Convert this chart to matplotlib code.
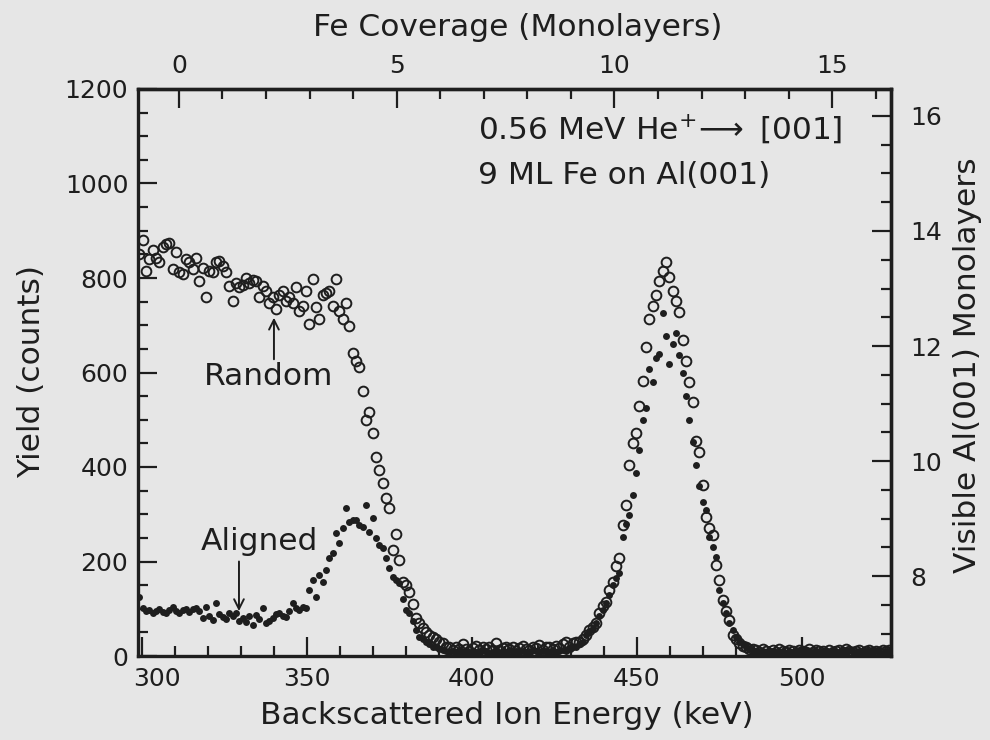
import numpy as np
import matplotlib
matplotlib.use("Agg")
import matplotlib.pyplot as plt
from matplotlib.ticker import MultipleLocator, FixedLocator
from matplotlib.transforms import ScaledTranslation

# ---------------- data ----------------
# detector channels: start energy (keV) and channel width (keV)
channel_start = 299.2
channel_width = 1.01

random_counts = [
    850, 880, 815, 841, 860, 843, 833, 865, 872, 875,
    819, 854, 812, 808, 841, 833, 820, 843, 794, 822,
    759, 815, 812, 833, 836, 826, 812, 784, 752, 790,
    780, 785, 801, 790, 795, 794, 759, 784, 773, 748,
    759, 735, 763, 773, 752, 760, 748, 780, 731, 740,
    773, 703, 798, 738, 714, 763, 769, 773, 741, 798,
    731, 714, 748, 699, 642, 625, 611, 560, 499, 516,
    473, 421, 393, 366, 334, 313, 224, 258, 203, 156,
    150, 135, 110, 80, 70, 59, 50, 45, 40, 35,
    30, 28, 20, 18, 12, 20, 15, 25, 14, 10,
    16, 22, 12, 18, 15, 20, 13, 28, 12, 16,
    18, 14, 20, 10, 17, 22, 15, 12, 19, 16,
    24, 13, 18, 20, 15, 22, 17, 25, 30, 20,
    28, 30, 30, 35, 45, 55, 61, 70, 90, 105,
    114, 140, 156, 190, 207, 277, 319, 404, 450, 471,
    530, 583, 653, 714, 741, 763, 794, 815, 833, 803,
    773, 752, 727, 668, 625, 580, 537, 456, 431, 362,
    294, 270, 256, 192, 161, 118, 95, 76, 44, 35,
    28, 22, 18, 15, 14, 12, 8, 14, 10, 6,
    12, 9, 15, 10, 8, 12, 11, 7, 13, 10,
    9, 14, 8, 12, 10, 11, 6, 13, 9, 10,
    12, 8, 14, 10, 9, 11, 13, 7, 10, 12,
    9, 11, 8, 13, 10, 12, 10,
]

aligned_counts = [
    125, 101, 95, 98, 91, 96, 100, 93, 90, 97,
    104, 95, 92, 97, 99, 94, 100, 101, 96, 80,
    104, 85, 76, 112, 88, 82, 78, 91, 85, 91,
    75, 80, 72, 85, 66, 87, 78, 101, 70, 75,
    80, 88, 91, 85, 82, 95, 112, 101, 98, 104,
    101, 140, 161, 125, 171, 156, 182, 207, 218, 260,
    239, 270, 313, 283, 287, 287, 277, 273, 319, 262,
    292, 249, 235, 228, 207, 186, 167, 160, 154, 120,
    97, 91, 75, 55, 40, 35, 30, 25, 20, 18,
    15, 12, 10, 8, 11, 9, 12, 7, 10, 8,
    11, 9, 8, 12, 10, 7, 9, 11, 8, 10,
    9, 12, 8, 10, 7, 11, 9, 8, 12, 10,
    8, 10, 11, 9, 12, 8, 10, 13, 11, 15,
    18, 20, 25, 30, 45, 52, 59, 70, 85, 97,
    112, 129, 150, 165, 175, 251, 280, 298, 340, 387,
    435, 499, 524, 608, 579, 630, 640, 725, 678, 619,
    661, 683, 636, 598, 550, 499, 452, 404, 360, 325,
    308, 251, 230, 209, 139, 112, 90, 70, 55, 40,
    30, 25, 20, 15, 12, 10, 8, 11, 9, 7,
    10, 8, 9, 11, 7, 10, 8, 9, 12, 8,
    10, 7, 9, 11, 8, 10, 9, 7, 11, 8,
    9, 10, 8, 12, 7, 9, 10, 8, 11, 9,
    8, 10, 9, 7, 11, 9, 10,
]

x_ticks = [300, 350, 400, 450, 500]
y_ticks = [0, 200, 400, 600, 800, 1000, 1200]
top_ticks = [0, 5, 10, 15]
right_ticks = [8, 10, 12, 14, 16]

# axis calibrations
fe_zero_energy = 311.2      # keV at 0 ML Fe
fe_kev_per_ml = 13.2
al_zero_counts = -805.0     # counts at 0 visible Al ML
al_counts_per_ml = 121.75

energy = channel_start + channel_width * np.arange(len(random_counts))

# ---------------- style ----------------
BG = "#e6e6e6"
INK = "#1e1e1e"
plt.rcParams["font.family"] = ["DejaVu Sans"]
plt.rcParams["mathtext.fontset"] = "dejavusans"

W, H = 990, 740
fig = plt.figure(figsize=(W / 100, H / 100), dpi=100)
fig.patch.set_facecolor(BG)

L, R, T, B = 138, 891, 89, 656
ax = fig.add_axes([L / W, (H - B) / H, (R - L) / W, (B - T) / H])
ax.set_facecolor(BG)

ax.plot(energy, random_counts, linestyle="none", marker="o", ms=7.0,
        mfc="none", mec=INK, mew=1.4, zorder=3)
ax.plot(energy, aligned_counts, linestyle="none", marker="o", ms=5.0,
        mfc=INK, mec=INK, mew=0, zorder=4)

ax.set_xlim(298.8, 527.0)
ax.set_ylim(0, 1200)

ax.xaxis.set_major_locator(FixedLocator(x_ticks))
ax.xaxis.set_minor_locator(MultipleLocator(10))
ax.yaxis.set_major_locator(FixedLocator(y_ticks))
ax.yaxis.set_minor_locator(MultipleLocator(50))

TICK_FS = 18
tick_kw = dict(direction="in", color=INK, labelcolor=INK, width=1.6)
ax.tick_params(which="major", length=14, labelsize=TICK_FS, **tick_kw)
ax.tick_params(which="minor", length=7, **tick_kw)
ax.tick_params(axis="x", which="both", top=False, pad=8)
ax.tick_params(axis="y", which="both", right=False, pad=7)

for s in ax.spines.values():
    s.set_linewidth(2.4)
    s.set_color(INK)

# top axis: Fe coverage
secx = ax.secondary_xaxis(
    "top",
    functions=(lambda e: (e - fe_zero_energy) / fe_kev_per_ml,
               lambda m: m * fe_kev_per_ml + fe_zero_energy))
secx.xaxis.set_major_locator(FixedLocator(top_ticks))
secx.xaxis.set_minor_locator(MultipleLocator(1))
secx.tick_params(which="major", length=14, labelsize=TICK_FS, pad=8, **tick_kw)
secx.tick_params(which="minor", length=7, **tick_kw)
secx.spines["top"].set_linewidth(2.4)
secx.spines["top"].set_color(INK)

# right axis: visible Al monolayers
secy = ax.secondary_yaxis(
    "right",
    functions=(lambda c: (c - al_zero_counts) / al_counts_per_ml,
               lambda m: m * al_counts_per_ml + al_zero_counts))
secy.yaxis.set_major_locator(FixedLocator(right_ticks))
secy.yaxis.set_minor_locator(MultipleLocator(0.5))
secy.tick_params(which="major", length=14, labelsize=TICK_FS, pad=14, **tick_kw)
secy.tick_params(which="minor", length=7, **tick_kw)
secy.spines["right"].set_linewidth(2.4)
secy.spines["right"].set_color(INK)

# annotations
txt = dict(color=INK, fontsize=22.5)
ax.text(401.8, 1095, r"0.56 MeV He$^{+}\!\longrightarrow$ [001]",
        ha="left", va="baseline", **txt)
ax.text(401.8, 998, "9 ML Fe on Al(001)", ha="left", va="baseline", **txt)

ax.text(338.5, 574, "Random", ha="center", va="baseline", **txt)
ax.annotate("", xy=(340.0, 716), xytext=(340.0, 628),
            arrowprops=dict(arrowstyle="->,head_length=0.7,head_width=0.35",
                            lw=1.4, color=INK, shrinkA=0, shrinkB=0))
ax.text(335.6, 224, "Aligned", ha="center", va="baseline", **txt)
ax.annotate("", xy=(329.4, 95), xytext=(329.4, 200),
            arrowprops=dict(arrowstyle="->,head_length=0.7,head_width=0.35",
                            lw=1.4, color=INK, shrinkA=0, shrinkB=0))

# axis titles
fig.text(507 / W, 1 - 715 / H, "Backscattered Ion Energy (keV)",
         ha="center", va="center", **txt)
fig.text(518 / W, 1 - 28 / H, "Fe Coverage (Monolayers)",
         ha="center", va="center", **txt)
fig.text(32 / W, 1 - 372 / H, "Yield (counts)", rotation=90,
         ha="center", va="center", **txt)
fig.text(968 / W, 1 - 365 / H, "Visible Al(001) Monolayers", rotation=90,
         ha="center", va="center", **txt)

# nudge the first bottom tick label right (as in the reference)
fig.canvas.draw()
lab = ax.xaxis.get_major_ticks()[0].label1
lab.set_transform(lab.get_transform() +
                  ScaledTranslation(0.15, 0, fig.dpi_scale_trans))

fig.savefig("out.png", dpi=100, facecolor=BG)
